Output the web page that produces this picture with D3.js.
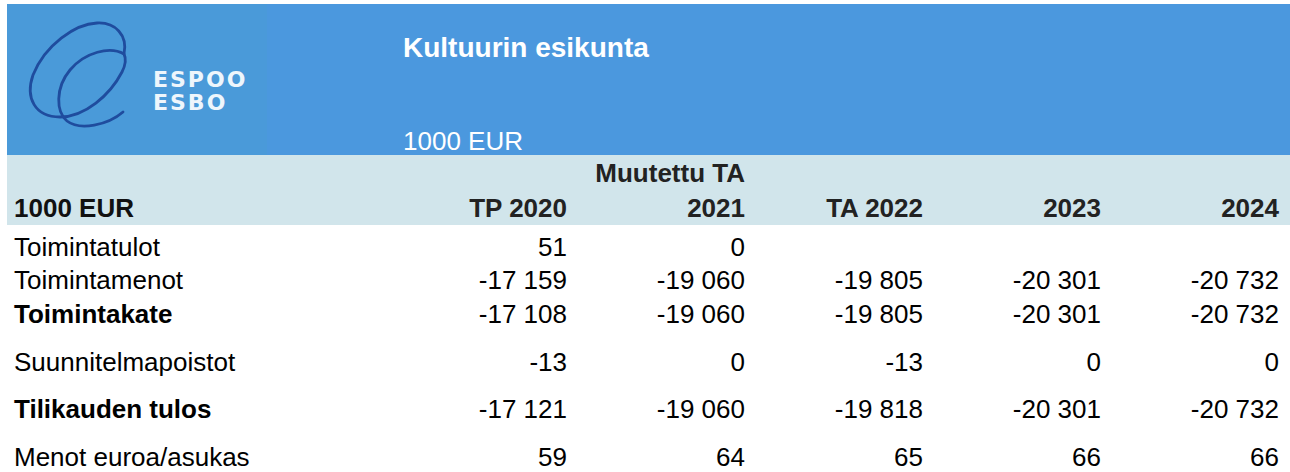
<!DOCTYPE html>
<html>
<head>
<meta charset="utf-8">
<script src="https://cdn.jsdelivr.net/npm/d3@7"></script>
<style>
  body { margin: 0; background: #fff; }
  svg { display: block; font-family: "Liberation Sans", Arial, sans-serif; }
</style>
</head>
<body>
<div id="table"></div>
<script>
// table content
const title = "Kultuurin esikunta";
const unitText = "1000 EUR";
const headerTop = ["", "Muutettu TA", "", "", ""];
const headerBottom = ["TP 2020", "2021", "TA 2022", "2023", "2024"];
const rowLabels = ["Toimintatulot", "Toimintamenot", "Toimintakate", "Suunnitelmapoistot", "Tilikauden tulos", "Menot euroa/asukas"];
const boldRows = ["Toimintakate", "Tilikauden tulos"];
const toimintatulot = [51, 0, null, null, null];
const toimintamenot = [-17159, -19060, -19805, -20301, -20732];
const toimintakate = [-17108, -19060, -19805, -20301, -20732];
const poistot = [-13, 0, -13, 0, 0];
const tulos = [-17121, -19060, -19818, -20301, -20732];
const menotAsukas = [59, 64, 65, 66, 66];
const rowValues = [toimintatulot, toimintamenot, toimintakate, poistot, tulos, menotAsukas];

const W = 1290, H = 472;
const fontSize = 26;

const locale = d3.formatLocale({ decimal: ",", thousands: " ", grouping: [3], currency: ["", " €"], minus: "-" });
const fmt = locale.format(",d");

const svg = d3.select("#table").append("svg")
    .attr("width", W)
    .attr("height", H);

// blue title band
svg.append("rect")
    .attr("x", 7).attr("y", 4)
    .attr("width", W - 7).attr("height", 151)
    .attr("fill", "#4b98de");

// logo area (slightly different tone)
const logo = svg.append("g");
logo.append("rect")
    .attr("x", 7).attr("y", 4)
    .attr("width", 260).attr("height", 151)
    .attr("fill", "#4a9ad9");
// swirl: outer tilted loop + inner loop ending in a tail
logo.selectAll("path.swirl")
    .data([
        "M124,54 C128,35 115,22 97,23 C75,24 45,45 33,75 C25,98 35,117 60,117 C85,117 110,95 122,72 C126,64 126,58 124,54",
        "M124,54 C110,46 85,52 70,70 C55,88 56,112 67,121 C80,131 108,125 123,112"
    ])
    .enter().append("path")
    .attr("class", "swirl")
    .attr("d", d => d)
    .attr("fill", "none")
    .attr("stroke", "#1f4c9e")
    .attr("stroke-width", 2.8)
    .attr("stroke-linecap", "round");
logo.selectAll("text.logo")
    .data(["ESPOO", "ESBO"])
    .enter().append("text")
    .attr("class", "logo")
    .attr("x", 153)
    .attr("y", (d, i) => 87 + i * 23)
    .attr("fill", "#eef6fc")
    .style("font-family", "'DejaVu Sans', sans-serif")
    .style("font-weight", "bold")
    .style("font-size", "22px")
    .style("letter-spacing", "2px")
    .text(d => d);

// title and unit
svg.append("text")
    .attr("x", 403).attr("y", 57)
    .attr("fill", "#fff")
    .style("font-size", "28px")
    .style("font-weight", "bold")
    .text(title);
svg.append("text")
    .attr("x", 403).attr("y", 150)
    .attr("fill", "#fff")
    .style("font-size", fontSize + "px")
    .text(unitText);

// light header band
svg.append("rect")
    .attr("x", 7).attr("y", 155)
    .attr("width", W - 7).attr("height", 70)
    .attr("fill", "#d1e5eb");

// column scale (right edge of each column's text)
const x = d3.scalePoint()
    .domain(headerBottom)
    .range([567, 1279]);

// row baselines, row heights vary like in the sheet
const rowHeights = [0, 33, 34, 48, 47, 48];
const rowBase = d3.cumsum(rowHeights).map(v => 256 + v);
const y = d3.scaleOrdinal().domain(rowLabels).range(rowBase);

// headers
svg.append("text")
    .attr("x", 14).attr("y", 217)
    .attr("fill", "#111")
    .style("font-size", fontSize + "px")
    .style("font-weight", "bold")
    .text(unitText);

svg.selectAll("text.htop")
    .data(headerTop)
    .enter().append("text")
    .attr("class", "htop")
    .attr("x", (d, i) => x(headerBottom[i]))
    .attr("y", 182)
    .attr("text-anchor", "end")
    .attr("fill", "#222")
    .style("font-size", fontSize + "px")
    .style("font-weight", "bold")
    .text(d => d);

svg.selectAll("text.hbot")
    .data(headerBottom)
    .enter().append("text")
    .attr("class", "hbot")
    .attr("x", d => x(d))
    .attr("y", 217)
    .attr("text-anchor", "end")
    .attr("fill", "#222")
    .style("font-size", fontSize + "px")
    .style("font-weight", "bold")
    .text(d => d);

// body rows
const rows = svg.selectAll("g.row")
    .data(rowLabels)
    .enter().append("g")
    .attr("class", "row")
    .attr("transform", d => `translate(0,${y(d)})`);

rows.append("text")
    .attr("x", 14)
    .attr("fill", "#000")
    .style("font-size", fontSize + "px")
    .style("font-weight", d => boldRows.includes(d) ? "bold" : "normal")
    .text(d => d);

rows.selectAll("text.val")
    .data((d, i) => rowValues[i].map((v, j) => ({ v, col: headerBottom[j] })))
    .enter().append("text")
    .attr("class", "val")
    .attr("x", d => x(d.col))
    .attr("text-anchor", "end")
    .attr("fill", "#000")
    .style("font-size", fontSize + "px")
    .text(d => d.v === null ? "" : fmt(d.v));
</script>
</body>
</html>
